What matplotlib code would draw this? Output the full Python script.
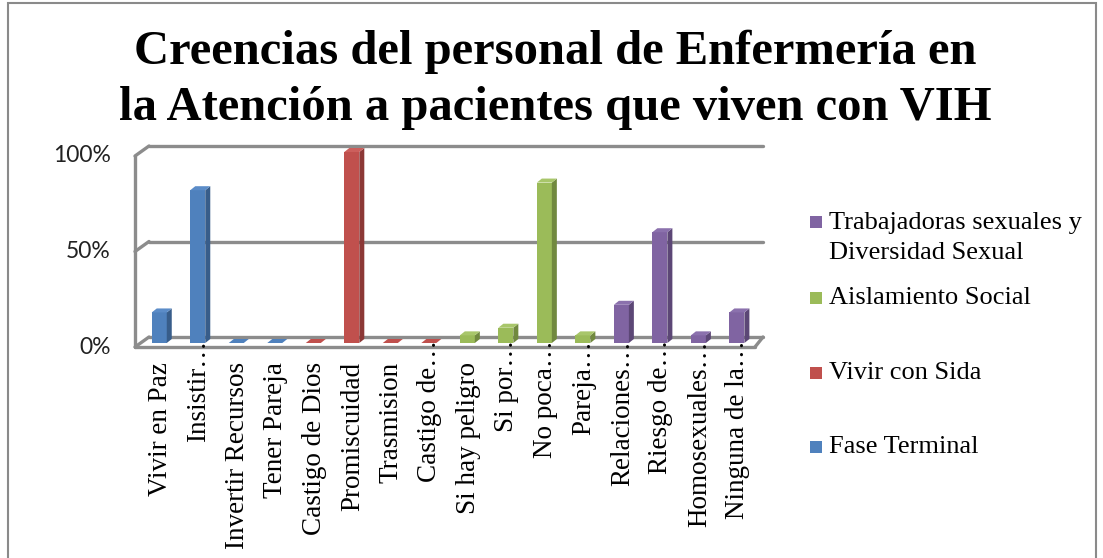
import matplotlib
matplotlib.use("Agg")
import matplotlib.pyplot as plt
from matplotlib.patches import Rectangle, Polygon

# ---------------- data ----------------
categories = ["Vivir en Paz", "Insistir…", "Invertir Recursos", "Tener Pareja",
              "Castigo de Dios", "Promiscuidad", "Trasmision", "Castigo de…",
              "Si hay peligro", "Si por…", "No poca…", "Pareja…",
              "Relaciones…", "Riesgo de…", "Homosexuales…", "Ninguna de la…"]
values = [0.16, 0.80, 0.0, 0.0,
          0.0, 1.00, 0.0, 0.0,
          0.04, 0.08, 0.84, 0.04,
          0.20, 0.58, 0.04, 0.16]
series_of_cat = [0, 0, 0, 0, 1, 1, 1, 1, 2, 2, 2, 2, 3, 3, 3, 3]
series_names = ["Fase Terminal", "Vivir con Sida", "Aislamiento Social",
                "Trabajadoras sexuales y\nDiversidad Sexual"]
ytick_vals = [0, 0.5, 1.0]
ytick_labels = ["0%", "50%", "100%"]
title = "Creencias del personal de Enfermería en\nla Atención a pacientes que viven con VIH"

# ---------------- style ----------------
front_cols = ["#4F81BD", "#C0504D", "#9BBB59", "#8064A2"]
side_cols = ["#385D8A", "#8C3836", "#71893F", "#5C4776"]
top_cols = ["#5B8CC8", "#CC5F5C", "#A8C66A", "#8B71AD"]
grid_col = "#8C8C8C"

W, H = 1103, 558
fig = plt.figure(figsize=(W / 100, H / 100), dpi=100)

def fx(px):
    return px / W

def fy(py):
    return 1 - py / H

# axes = front plane of the 3D box
L, R, T, B = 135, 755, 156, 347
ax = fig.add_axes([fx(L), fy(B), (R - L) / W, (B - T) / H])
xmin, xmax = -0.5, 15.6
ax.set_xlim(xmin, xmax)
ax.set_ylim(0, 1)
ax.axis("off")
sx = (xmax - xmin) / (R - L)   # data per pixel (x)
sy = 1.0 / (B - T)             # data per pixel (y)

# back wall / floor
bdx, bdy = 14 * sx, 10 * sy
x_back_right = xmin + (763 - L) * sx
lkw = dict(color=grid_col, lw=2.4, solid_capstyle="round", clip_on=False, zorder=1)
for g in ytick_vals:
    ax.plot([xmin + bdx, x_back_right], [g + bdy, g + bdy], **lkw)
    ax.plot([xmin, xmin + bdx], [g, g + bdy], **lkw)
ax.plot([xmin, xmin], [0, 1], **lkw)
ax.plot([xmin, xmax], [0, 0], **lkw)
ax.plot([xmax, x_back_right], [0, bdy], **lkw)

# bars (pseudo-3D)
xs = list(range(len(categories)))
ox, oy = 5 * sx, 4 * sy      # bar front face offset from front plane
dx, dy = 5 * sx, 4 * sy      # bar depth
w = 15 * sx
for i, (x, v) in enumerate(zip(xs, values)):
    s = series_of_cat[i]
    xl = x + ox - w / 2
    xr = x + ox + w / 2
    yb = oy
    yt = oy + v
    if v > 0:
        ax.bar(x + ox, v, width=w, bottom=oy, color=front_cols[s],
               edgecolor="none", zorder=3, clip_on=False)
        ax.add_patch(Polygon([(xr, yb), (xr + dx, yb + dy), (xr + dx, yt + dy), (xr, yt)],
                             closed=True, facecolor=side_cols[s], edgecolor="none",
                             zorder=3, clip_on=False))
    ax.add_patch(Polygon([(xl, yt), (xr, yt), (xr + dx, yt + dy), (xl + dx, yt + dy)],
                         closed=True, facecolor=top_cols[s] if v > 0 else front_cols[s],
                         edgecolor="none", zorder=3, clip_on=False))

# y tick labels
for v, lab in zip(ytick_vals, ytick_labels):
    ax.text(xmin - 24 * sx, v, lab, ha="right", va="center",
            fontsize=16.5, family=["Lato", "DejaVu Sans"], color="#222222")

# x category labels
trans = ax.get_xaxis_transform()
for x, lab in zip(xs, categories):
    top_px = 362 if not lab.endswith("…") else 340
    ax.text(x + ox + 1 * sx, -(top_px - B) * sy, lab, rotation=90, ha="center", va="top",
            fontsize=19.5, family=["Liberation Serif", "DejaVu Serif"],
            transform=trans, clip_on=False)

# title
fig.text(fx(555), fy(80), title, ha="center", va="center", fontsize=35,
         fontweight="bold", family=["Liberation Serif", "DejaVu Serif"],
         linespacing=1.34)

# legend (reverse order, manual layout)
leg_rows = [(3, 238, 222), (2, 298, 298), (1, 373, 373), (0, 447, 447)]
for s, ytxt, ysq in leg_rows:
    fig.patches.append(Rectangle((fx(810), fy(ysq + 6)), 12 / W, 12 / H,
                                 transform=fig.transFigure, facecolor=front_cols[s],
                                 edgecolor="none"))
    fig.text(fx(829), fy(ytxt), series_names[s], ha="left", va="center",
             fontsize=19, family=["Liberation Serif", "DejaVu Serif"], linespacing=1.45)

# outer border
fig.patches.append(Rectangle((fx(8), fy(560)), (1096 - 8) / W, (560 - 3) / H,
                             transform=fig.transFigure, facecolor="none",
                             edgecolor="#8A8A8A", lw=1.5))

fig.savefig("out.png", dpi=100)
